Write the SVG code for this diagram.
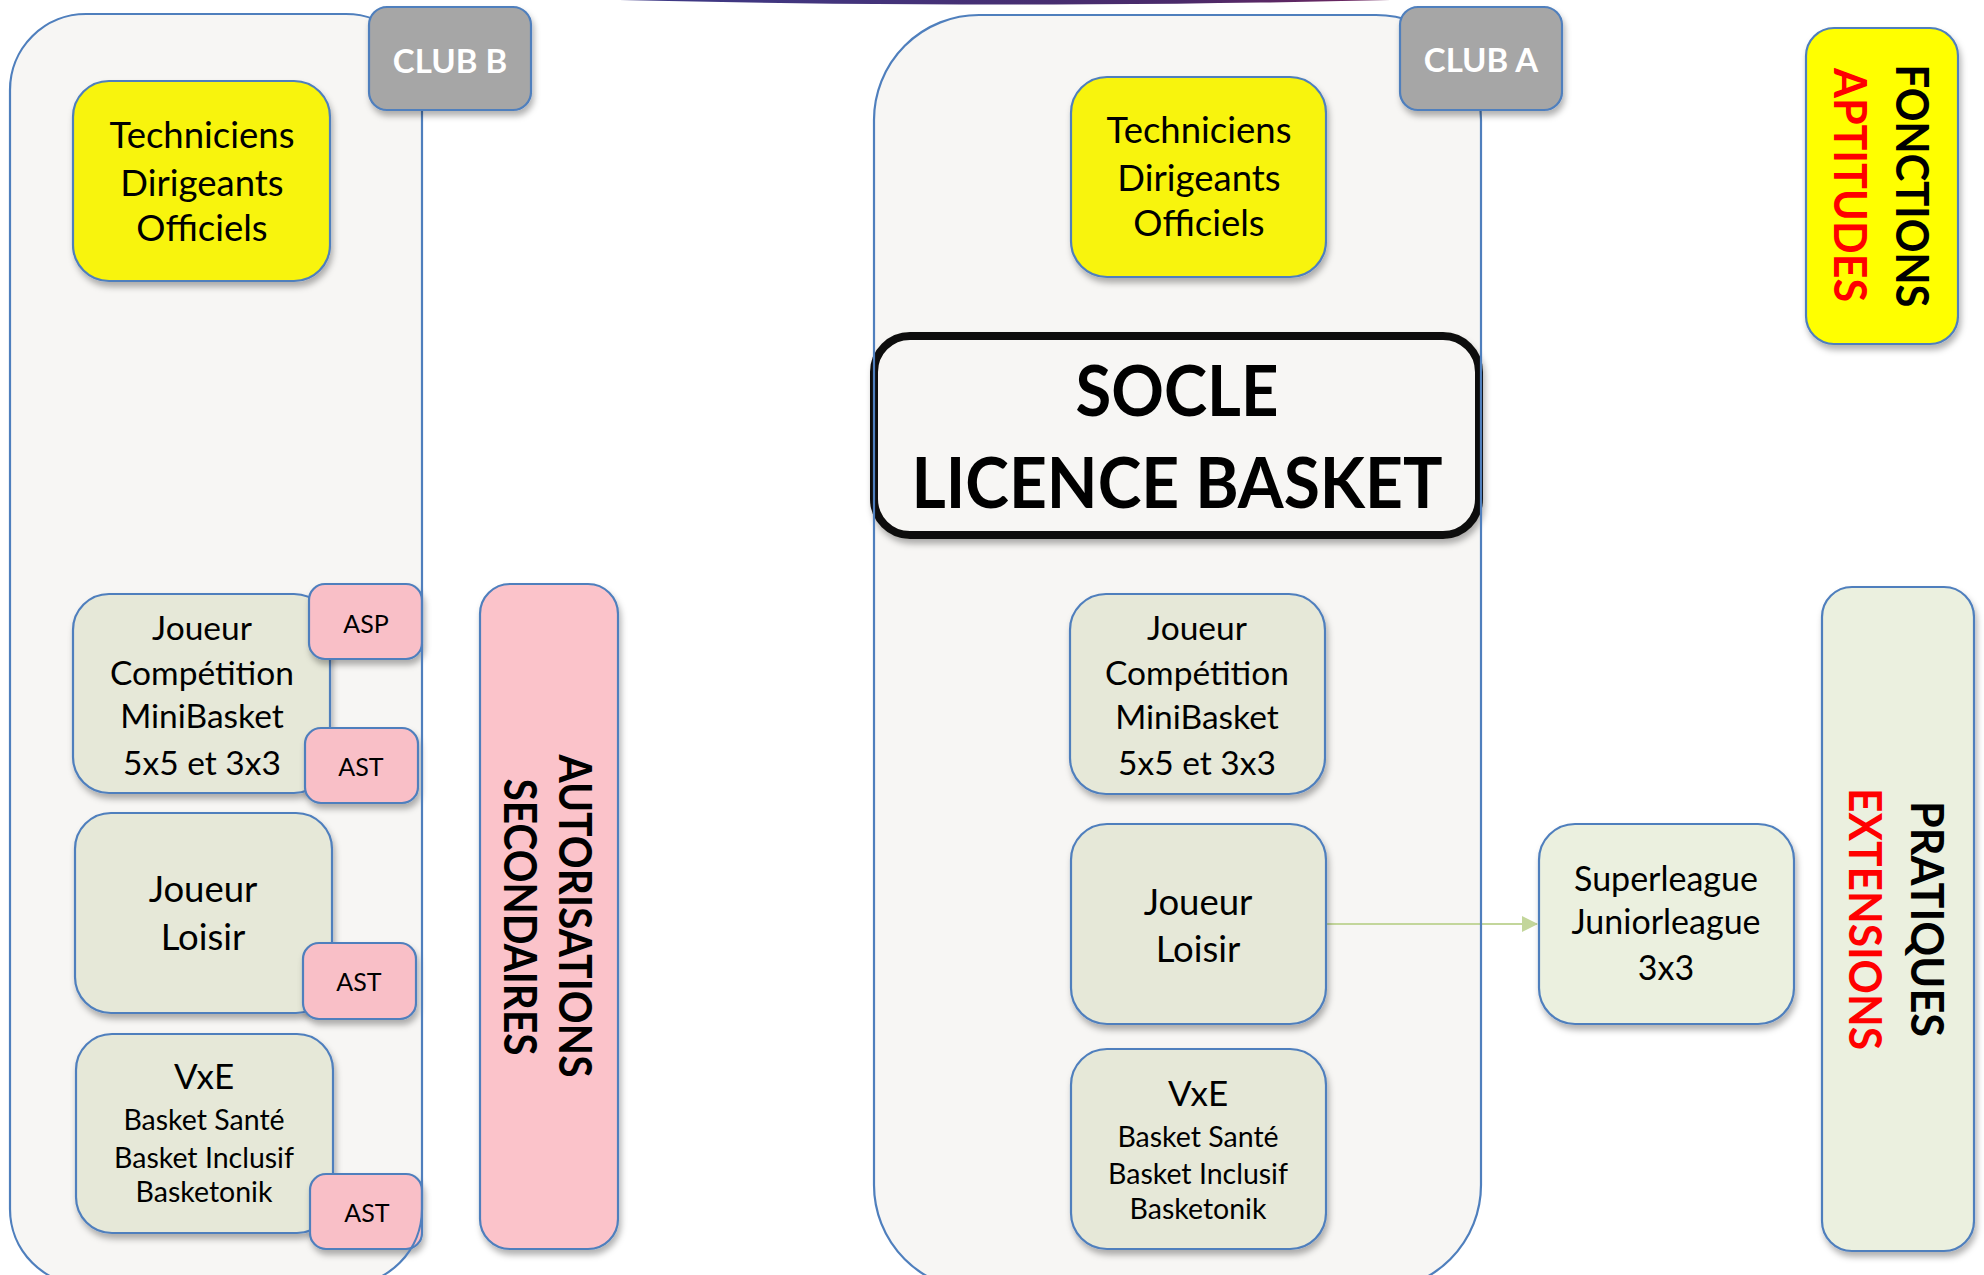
<svg xmlns="http://www.w3.org/2000/svg" width="1984" height="1275" viewBox="0 0 1984 1275">
<style>
.cont{fill:#f7f6f4;stroke:none}
.outl{fill:none;stroke:#4f7fbd;stroke-width:2.2}
.box{stroke:#4f7fbd;stroke-width:2.2;filter:url(#sh)}
.yel{fill:#f8f40a}
.grn{fill:#e6e8d8}
.lgr{fill:#ebf0df}
.pnk{fill:#f9bfc7}
.tab{fill:#a6a6a6}
.t{font-family:Lato,"Open Sans","Liberation Sans",sans-serif;fill:#000;text-anchor:middle}
.b{font-weight:700}
.w{fill:#fff}
.r{fill:#ff0000}
</style>
<defs>
<filter id="sh" x="-20%" y="-20%" width="140%" height="140%">
<feDropShadow dx="2" dy="5" stdDeviation="3" flood-color="#000" flood-opacity="0.3"/>
</filter>
<linearGradient id="topg" x1="0" y1="0" x2="1" y2="0">
<stop offset="0" stop-color="#c9cbe0"/>
<stop offset="0.2" stop-color="#3b3f8f"/>
<stop offset="0.6" stop-color="#4a2a6a"/>
<stop offset="0.85" stop-color="#9a2050"/>
<stop offset="1" stop-color="#e8c8d0"/>
</linearGradient>
<marker id="arr" markerWidth="16" markerHeight="16" refX="15" refY="8" orient="auto" markerUnits="userSpaceOnUse">
<path d="M0,0 L16,8 L0,16 Z" fill="#c3d69b"/>
</marker>
<rect id="club-b-shape" x="10" y="14" width="412" height="1271" rx="76"/>
<rect id="club-a-shape" x="874" y="15" width="607" height="1275" rx="105"/>
</defs>

<ellipse cx="1005" cy="-40" rx="880" ry="44.5" fill="url(#topg)"/>

<g id="club-b">
<use href="#club-b-shape" class="cont"/>
</g>
<g id="club-a">
<use href="#club-a-shape" class="cont"/>
</g>

<g id="connectors">
<line x1="1327" y1="924" x2="1537" y2="924" stroke="#c3d69b" stroke-width="2.2" marker-end="url(#arr)"/>
</g>

<g id="b-fonctions">
<rect class="box yel" x="73" y="81" width="257" height="200" rx="36"/>
<text class="t" font-size="36.5"><tspan x="202" y="148">Techniciens</tspan><tspan x="202" y="196">Dirigeants</tspan><tspan x="202" y="241">Officiels</tspan></text>
</g>
<g id="b-competition">
<rect class="box grn" x="73" y="594" width="257" height="199" rx="36"/>
<text class="t" font-size="33.5"><tspan x="202" y="640">Joueur</tspan><tspan x="202" y="685">Compétition</tspan><tspan x="202" y="728">MiniBasket</tspan><tspan x="202" y="775">5x5 et 3x3</tspan></text>
</g>
<g id="b-asp">
<rect class="box pnk" x="309" y="584" width="113" height="75" rx="16"/>
<text class="t" font-size="25" x="366" y="633">ASP</text>
</g>
<g id="b-ast1">
<rect class="box pnk" x="305" y="728" width="113" height="75" rx="16"/>
<text class="t" font-size="25" x="361" y="776">AST</text>
</g>
<g id="b-loisir">
<rect class="box grn" x="75" y="813" width="257" height="200" rx="36"/>
<text class="t" font-size="36.5"><tspan x="203" y="902">Joueur</tspan><tspan x="203" y="950">Loisir</tspan></text>
</g>
<g id="b-ast2">
<rect class="box pnk" x="303" y="943" width="113" height="76" rx="16"/>
<text class="t" font-size="25" x="359" y="991">AST</text>
</g>
<g id="b-vxe">
<rect class="box grn" x="76" y="1034" width="257" height="199" rx="36"/>
<text class="t" font-size="35" x="204" y="1089">VxE</text>
<text class="t" font-size="28.5"><tspan x="204" y="1130">Basket Santé</tspan><tspan x="204" y="1168">Basket Inclusif</tspan><tspan x="204" y="1202">Basketonik</tspan></text>
</g>
<g id="b-ast3">
<rect class="box pnk" x="310" y="1174" width="112" height="75" rx="16"/>
<text class="t" font-size="25" x="367" y="1222">AST</text>
</g>
<g id="club-b-outline">
<use href="#club-b-shape" class="outl"/>
</g>
<g id="club-b-tab">
<rect class="box tab" x="369" y="7" width="162" height="103" rx="18"/>
<text class="t b w" font-size="33" x="450" y="73">CLUB B</text>
</g>

<g id="autorisations">
<rect class="box" fill="#fbc3ca" x="480" y="584" width="138" height="665" rx="30"/>
<text class="t b" font-size="46" transform="translate(575,916) rotate(90)" y="16" textLength="323" lengthAdjust="spacingAndGlyphs">AUTORISATIONS</text>
<text class="t b" font-size="46" transform="translate(520,917) rotate(90)" y="16" textLength="277" lengthAdjust="spacingAndGlyphs">SECONDAIRES</text>
</g>

<g id="a-fonctions">
<rect class="box yel" x="1071" y="77" width="255" height="200" rx="36"/>
<text class="t" font-size="36.5"><tspan x="1199" y="143">Techniciens</tspan><tspan x="1199" y="191">Dirigeants</tspan><tspan x="1199" y="236">Officiels</tspan></text>
</g>
<g id="socle">
<rect x="874" y="336" width="605" height="199" rx="36" fill="#f7f6f4" stroke="#0d0d0b" stroke-width="8" filter="url(#sh)"/>
<text class="t b" font-size="70" fill="#0d0d0b" x="1177" y="416" textLength="203" lengthAdjust="spacingAndGlyphs">SOCLE</text>
<text class="t b" font-size="70" fill="#0d0d0b" x="1177" y="508" textLength="531" lengthAdjust="spacingAndGlyphs">LICENCE BASKET</text>
</g>
<g id="a-competition">
<rect class="box grn" x="1070" y="594" width="255" height="200" rx="36"/>
<text class="t" font-size="33.5"><tspan x="1197" y="640">Joueur</tspan><tspan x="1197" y="685">Compétition</tspan><tspan x="1197" y="729">MiniBasket</tspan><tspan x="1197" y="775">5x5 et 3x3</tspan></text>
</g>
<g id="a-loisir">
<rect class="box grn" x="1071" y="824" width="255" height="200" rx="36"/>
<text class="t" font-size="36.5"><tspan x="1198" y="915">Joueur</tspan><tspan x="1198" y="962">Loisir</tspan></text>
</g>
<g id="a-vxe">
<rect class="box grn" x="1071" y="1049" width="255" height="200" rx="36"/>
<text class="t" font-size="35" x="1198" y="1106">VxE</text>
<text class="t" font-size="28.5"><tspan x="1198" y="1147">Basket Santé</tspan><tspan x="1198" y="1184">Basket Inclusif</tspan><tspan x="1198" y="1219">Basketonik</tspan></text>
</g>
<g id="club-a-outline">
<use href="#club-a-shape" class="outl"/>
</g>
<g id="club-a-tab">
<rect class="box tab" x="1400" y="7" width="162" height="103" rx="18"/>
<text class="t b w" font-size="33" x="1481" y="72">CLUB A</text>
</g>

<g id="superleague">
<rect class="box lgr" x="1539" y="824" width="255" height="200" rx="36"/>
<text class="t" font-size="34"><tspan x="1666" y="891">Superleague</tspan><tspan x="1666" y="934">Juniorleague</tspan><tspan x="1666" y="980">3x3</tspan></text>
</g>

<g id="pratiques">
<rect class="box lgr" x="1822" y="587" width="152" height="664" rx="30"/>
<text class="t b" font-size="46" transform="translate(1927,919) rotate(90)" y="16" textLength="236" lengthAdjust="spacingAndGlyphs">PRATIQUES</text>
<text class="t b r" font-size="46" transform="translate(1865,919) rotate(90)" y="16" textLength="262" lengthAdjust="spacingAndGlyphs">EXTENSIONS</text>
</g>

<g id="fonctions-aptitudes">
<rect class="box" fill="#ffff00" x="1806" y="28" width="152" height="316" rx="28"/>
<text class="t b" font-size="46" transform="translate(1912,186) rotate(90)" y="16" textLength="243" lengthAdjust="spacingAndGlyphs">FONCTIONS</text>
<text class="t b r" font-size="46" transform="translate(1850,185) rotate(90)" y="16" textLength="234" lengthAdjust="spacingAndGlyphs">APTITUDES</text>
</g>
</svg>
